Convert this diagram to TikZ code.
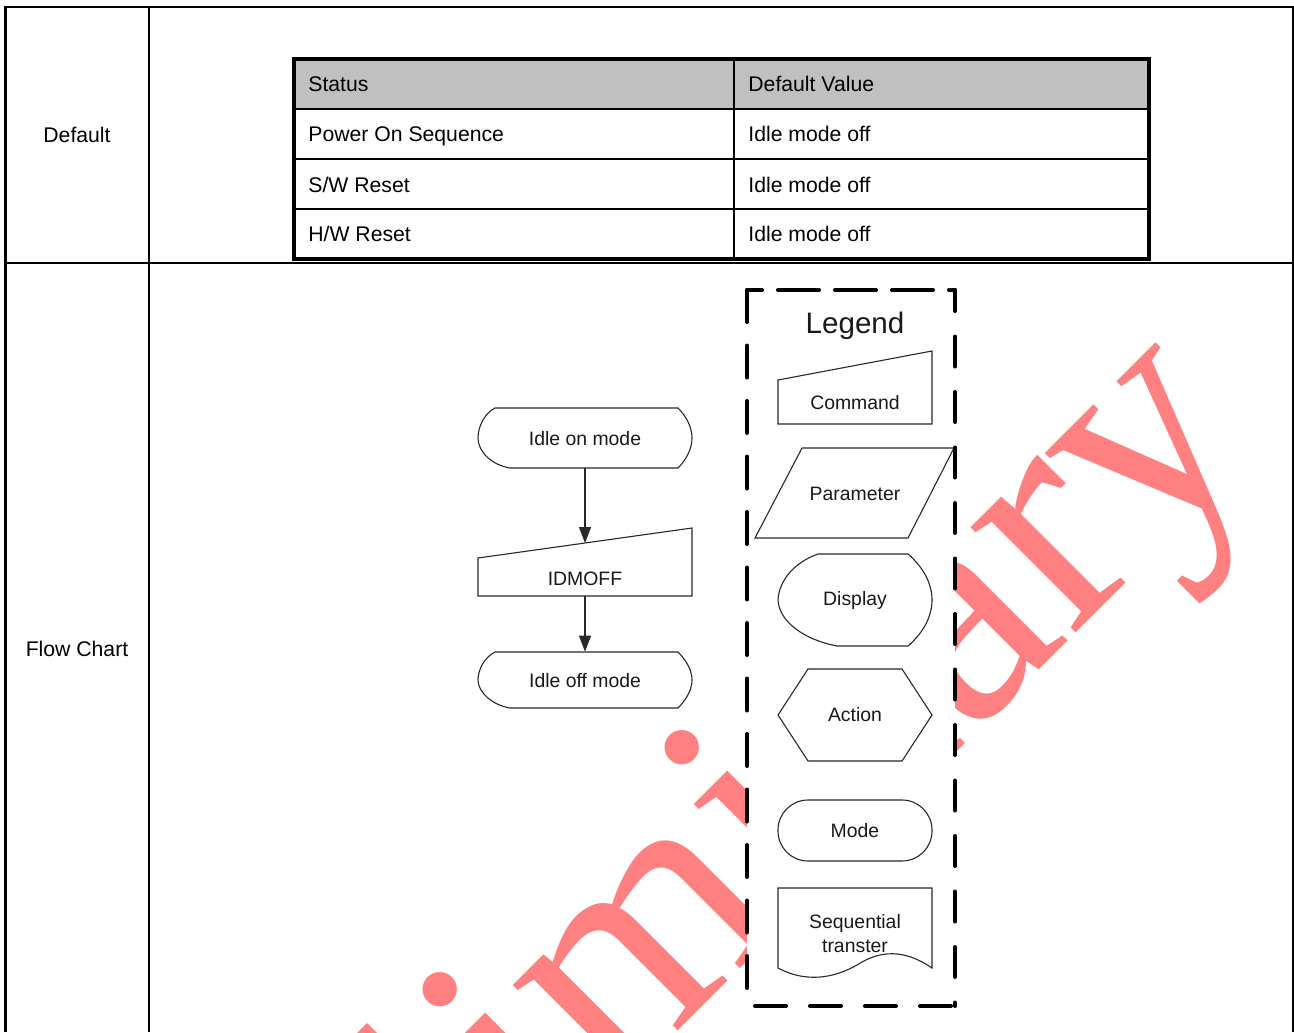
\documentclass[tikz,border=0pt]{standalone}
\usepackage{fontspec}
\setmainfont{Liberation Sans}
\newfontfamily\wmfont{Liberation Serif}
\usetikzlibrary{arrows.meta}
\definecolor{hdrgray}{RGB}{192,192,192}
\definecolor{wmpink}{RGB}{255,128,128}
\definecolor{shpline}{RGB}{40,40,40}
\definecolor{shptext}{RGB}{25,25,25}
\begin{document}
\begin{tikzpicture}[x=0.5pt,y=-0.5pt,
  lbl/.style={font=\fontsize{10.6}{12}\selectfont, inner sep=0pt, anchor=base west},
  celllbl/.style={font=\fontsize{10.6}{12}\selectfont, inner sep=0pt, anchor=base},
  fc/.style={font=\fontsize{9.7}{11}\selectfont, text=shptext, inner sep=0pt, text height=0.72em, text depth=0pt},
  shp/.style={draw=shpline, line width=0.55pt, fill=white},
  arr/.style={draw=shpline, line width=0.55pt, -{Triangle[length=8pt,width=6pt]}},
  legdash/.style={line width=2pt, line cap=round},
  ]
\useasboundingbox (0,0) rectangle (1294,1032);
\fill[white] (0,0) rectangle (1294,1032);

% watermark
\begin{scope}
  \clip (6,264) rectangle (1292,1032);
  \node[rotate=45, anchor=base west, inner sep=0pt, text=wmpink,
        font=\wmfont\fontsize{162}{162}\selectfont] (wmark) at (180,1529) {Preliminary};
\end{scope}

% outer table
\draw[line width=1pt] (5,7) -- (1293,7);
\draw[line width=1.5pt] (5,6) -- (5,1032);
\draw[line width=1pt] (1293,6) -- (1293,1032);
\draw[line width=0.75pt] (149,7) -- (149,1032);
\draw[line width=1pt] (5,263) -- (1293,263);
\node[celllbl] (tdef) at (77,143) {Default};
\node[celllbl] (tflow) at (77,656) {Flow Chart};

% inner table
\fill[hdrgray] (294,59) rectangle (1149,109);
\draw[line width=0.8pt] (294,109) -- (1149,109);
\draw[line width=0.8pt] (294,159) -- (1149,159);
\draw[line width=0.8pt] (294,209) -- (1149,209);
\draw[line width=0.8pt] (734,59) -- (734,259);
\draw[line width=2pt] (294,59) rectangle (1149,259);
\node[lbl] (h1) at (308,92) {Status};
\node[lbl] (h2) at (748,92) {Default Value};
\node[lbl] (r1a) at (308,142) {Power On Sequence};
\node[lbl] (r1b) at (748,142) {Idle mode off};
\node[lbl] (r2a) at (308,192) {S/W Reset};
\node[lbl] (r2b) at (748,192) {Idle mode off};
\node[lbl] (r3a) at (308,242) {H/W Reset};
\node[lbl] (r3b) at (748,242) {Idle mode off};

% flow chart shapes
\draw[shp] (495,408) -- (678,408) .. controls (687,417) and (692,428) .. (692,438)
  .. controls (692,448) and (687,459) .. (678,468) -- (510,468)
  .. controls (492,465) and (478,452) .. (478,438)
  .. controls (478,426) and (485,413) .. (495,408) -- cycle;
\draw[shp] (478,558) -- (692,528) -- (692,596) -- (478,596) -- cycle;
\draw[shp] (495,652) -- (678,652) .. controls (687,661) and (692,671) .. (692,680)
  .. controls (692,689) and (687,699) .. (678,708) -- (510,708)
  .. controls (492,705) and (478,692) .. (478,680)
  .. controls (478,669) and (485,657) .. (495,652) -- cycle;

\node[fc, minimum height=30pt] (idon) at (585,438) {Idle on mode};
\node[fc, minimum height=18pt] (idmoff) at (585,578) {IDMOFF};
\node[fc, minimum height=28pt] (idoff) at (585,680) {Idle off mode};
\coordinate (idmin) at (585,543);

\draw[arr] (idon.south) -- (idmin);
\draw[arr] (idmoff.south) -- (idoff.north);

% legend
\fill[white] (747,290) rectangle (955,1006);
\draw[shp] (778,380) -- (932,351) -- (932,424) -- (778,424) -- cycle;
\draw[shp] (802,448) -- (954,448) -- (908,538) -- (755,538) -- cycle;
\draw[shp] (818,554) -- (908,554) .. controls (924,568) and (932,584) .. (932,600)
  .. controls (932,616) and (924,632) .. (908,646) -- (837,646)
  .. controls (805,640) and (779,622) .. (778,600)
  .. controls (779,580) and (795,562) .. (818,554) -- cycle;
\draw[shp] (778,715) -- (808,669) -- (902,669) -- (932,715) -- (902,761) -- (808,761) -- cycle;
\draw[shp, rounded corners=15pt] (778,800) rectangle (932,861);
\draw[shp] (778,888) -- (932,888) -- (932,968) .. controls (910,953) and (887,948) .. (862,962)
  .. controls (840,976) and (810,985) .. (778,968) -- cycle;

\node[fc, font=\fontsize{14.8}{16}\selectfont] (legtitle) at (855,326) {Legend};
\node[fc] (lcmd) at (855,402) {Command};
\node[fc] (lpar) at (855,493) {Parameter};
\node[fc] (ldis) at (855,598) {Display};
\node[fc] (lact) at (855,714) {Action};
\node[fc] (lmode) at (855,830) {Mode};
\node[fc] (lseqa) at (855,921) {Sequential};
\node[fc] (lseqb) at (855,945) {transter};

\draw[legdash, dash pattern=on 20.5pt off 8pt, dash phase=13pt] (747,290) -- (955,290);
\draw[legdash, dash pattern=on 15pt off 12.75pt, dash phase=4.5pt] (955,290) -- (955,1006);
\draw[legdash, dash pattern=on 15.5pt off 12pt, dash phase=23.5pt] (747,1006) -- (955,1006);
\draw[legdash, dash pattern=on 16pt off 11.75pt] (747,290) -- (747,1006);
\end{tikzpicture}
\end{document}
